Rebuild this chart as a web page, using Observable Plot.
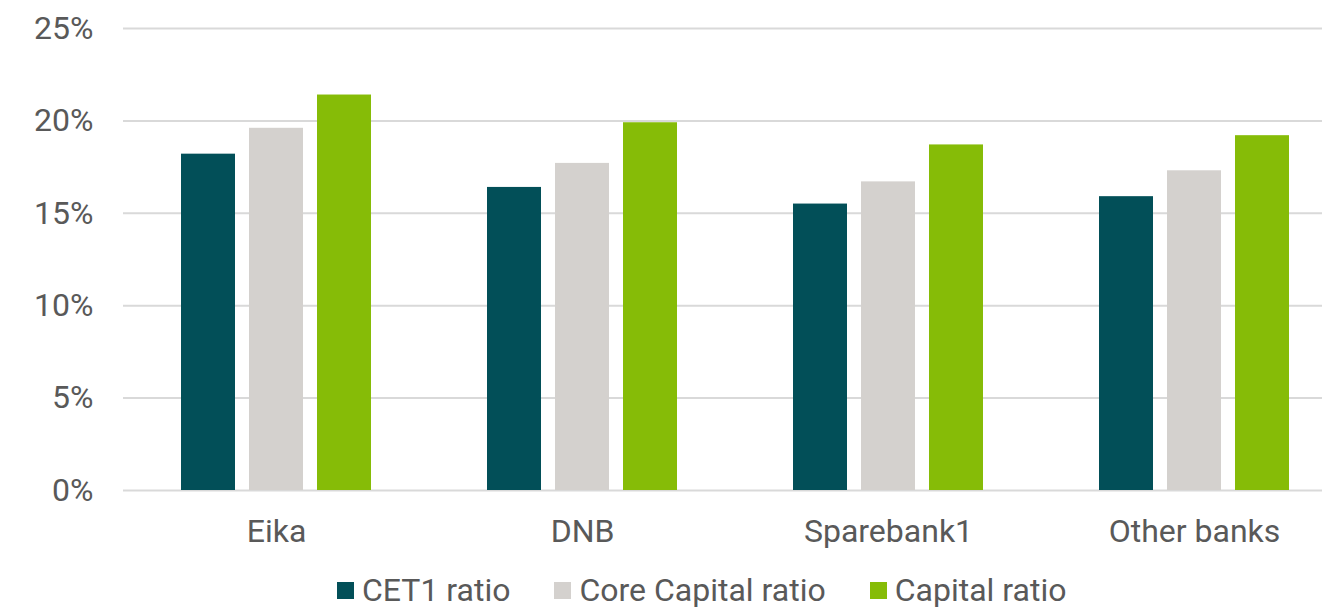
<!DOCTYPE html>
<html>
<head>
<meta charset="utf-8">
<script src="https://cdn.jsdelivr.net/npm/d3@7"></script>
<script src="https://cdn.jsdelivr.net/npm/@observablehq/plot@0.6"></script>
<style>
  html, body { margin: 0; padding: 0; background: #fff; }
  #wrap { width: 1322px; height: 610px; overflow: hidden; font-family: Roboto, sans-serif; }
  #chart svg { display: block; overflow: hidden; }
  #legend { margin-left: 337px; margin-top: 12px; line-height: 32px; }
  #legend > div { min-height: 0 !important; margin: 0 !important; line-height: 32px; }
  #legend [class$="-swatch"] { margin-right: 44px !important; }
  #legend [class$="-swatch"] > svg { margin-right: 8px !important; }
</style>
</head>
<body>
<div id="wrap">
  <div id="chart"></div>
  <div id="legend"></div>
</div>
<script>
const banks = ["Eika", "DNB", "Sparebank1", "Other banks"];
const series = ["CET1 ratio", "Core Capital ratio", "Capital ratio"];
const cet1 = [18.2, 16.4, 15.5, 15.9];
const coreCapital = [19.6, 17.7, 16.7, 17.3];
const capital = [21.4, 19.9, 18.7, 19.2];
const yTicks = [0, 5, 10, 15, 20, 25];
const colors = ["#024f58", "#d4d1ce", "#86bc07"];

const valuesBySeries = [cet1, coreCapital, capital];
const data = [];
banks.forEach((b, i) => {
  series.forEach((s, j) => data.push({bank: b, series: s, value: valuesBySeries[j][i]}));
});

const chart = Plot.plot({
  width: 1322,
  height: 562,
  marginTop: 28,
  marginBottom: 72,
  marginLeft: 122,
  marginRight: 0,
  style: {fontFamily: "Roboto, sans-serif", fontSize: "32px", color: "#595959", background: "#fff"},
  fx: {domain: banks, range: [122, 1347], padding: 0, label: null, tickSize: 0, tickPadding: 29},
  x: {domain: series, paddingInner: 0.2, paddingOuter: 0.85, axis: null},
  y: {domain: [0, 25], ticks: yTicks, tickFormat: d => d + "%", tickSize: 0, tickPadding: 30, label: null},
  color: {domain: series, range: colors},
  marks: [
    Plot.ruleY(yTicks, {stroke: "#d9d9d9", strokeWidth: 2}),
    Plot.barY(data, {fx: "bank", x: "series", y: "value", fill: "series"})
  ]
});
document.getElementById("chart").appendChild(chart);

const legend = Plot.legend({
  color: {domain: series, range: colors},
  swatchSize: 17,
  style: {fontFamily: "Roboto, sans-serif", fontSize: "32px", color: "#595959"}
});
document.getElementById("legend").appendChild(legend);
</script>
</body>
</html>
